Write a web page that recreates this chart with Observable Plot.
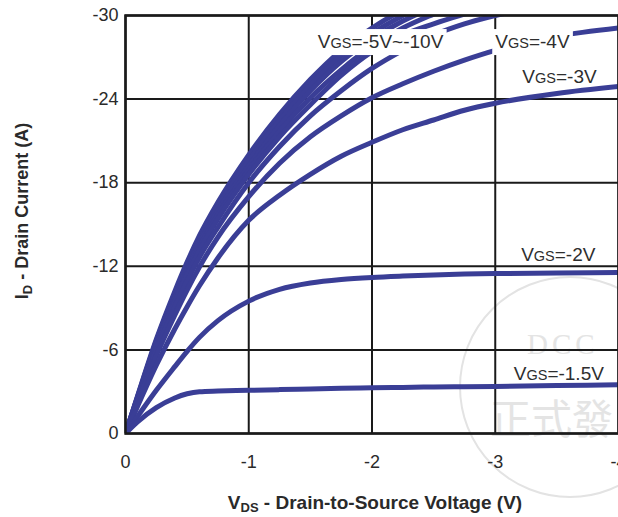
<!DOCTYPE html>
<html><head><meta charset="utf-8">
<script src="https://cdn.jsdelivr.net/npm/d3@7"></script>
<script src="https://cdn.jsdelivr.net/npm/@observablehq/plot@0.6"></script>
<style>
html,body{margin:0;padding:0;background:#fff;}
</style></head><body><div id="chart"></div>
<script>
// VDS sample points (V)
const vdsGrid = [0, -0.1, -0.25, -0.4, -0.5, -0.6, -0.75, -1, -1.25, -1.5, -1.75, -2, -2.25, -2.5, -2.75, -3, -3.5, -4];
// |ID| (A), one array per gate voltage
const id_m10  = [0, 2.75, 6.75, 10.2, 12.3, 14.2, 16.6, 20.0, 22.9, 25.4, 27.5, 29.1, 30.4, 31.4, 32.3, 33.0, 34.0, 34.6];
const id_m9   = [0, 2.7, 6.65, 10.0, 12.05, 13.9, 16.3, 19.6, 22.5, 25.0, 27.1, 28.7, 30.0, 31.1, 32.0, 32.6, 33.5, 34.2];
const id_m8   = [0, 2.65, 6.5, 9.8, 11.8, 13.65, 16.0, 19.2, 22.1, 24.6, 26.7, 28.3, 29.6, 30.6, 31.4, 32.0, 33.0, 33.6];
const id_m7   = [0, 2.6, 6.4, 9.65, 11.6, 13.4, 15.7, 18.9, 21.7, 24.1, 26.1, 27.8, 29.1, 30.1, 31.0, 31.6, 32.4, 33.0];
const id_m6   = [0, 2.55, 6.25, 9.45, 11.4, 13.15, 15.4, 18.6, 21.3, 23.6, 25.7, 27.4, 28.6, 29.4, 30.1, 30.6, 31.3, 31.8];
const id_m5   = [0, 2.45, 6.0, 9.1, 10.95, 12.65, 14.8, 18.0, 20.6, 22.8, 24.6, 26.2, 27.5, 28.6, 29.4, 30.0, 30.8, 31.3];
const id_m4   = [0, 2.3, 5.6, 8.5, 10.3, 11.95, 14.1, 17.0, 19.4, 21.3, 22.8, 24.1, 25.1, 26.0, 26.8, 27.5, 28.5, 29.1];
const id_m3   = [0, 2.0, 4.9, 7.5, 9.1, 10.6, 12.6, 15.3, 17.1, 18.6, 19.9, 20.9, 21.8, 22.5, 23.2, 23.7, 24.4, 24.9];
const id_m2   = [0, 1.25, 3.1, 4.8, 5.9, 6.9, 8.1, 9.5, 10.35, 10.8, 11.05, 11.2, 11.3, 11.38, 11.44, 11.48, 11.52, 11.55];
const id_m1p5 = [0, 0.85, 1.85, 2.55, 2.85, 3.0, 3.05, 3.1, 3.15, 3.2, 3.24, 3.28, 3.31, 3.34, 3.36, 3.38, 3.44, 3.5];

const vgsValues = [-10, -9, -8, -7, -6, -5, -4, -3, -2, -1.5];
const idSeries  = [id_m10, id_m9, id_m8, id_m7, id_m6, id_m5, id_m4, id_m3, id_m2, id_m1p5];

// curve labels (text after the "VGS" prefix)
const labelVgs = ["=-5V~-10V", "=-4V", "=-3V", "=-2V", "=-1.5V"];
const labelVds = [-1.56, -3.0, -3.22, -3.21, -3.15];
const labelId  = [-28.1, -28.1, -25.6, -12.8, -4.3];

const xTicks = [0, -1, -2, -3, -4];
const yTicks = [0, -6, -12, -18, -24, -30];

const rows = [];
vgsValues.forEach((vgs, s) => {
  idSeries[s].forEach((id, k) => rows.push({vgs, vds: vdsGrid[k], id: -id}));
});
const labels = labelVgs.map((t, i) => ({text: t, vds: labelVds[i], id: labelId[i]}));

const blue = "#3a3e96";
const ink = "#1a1a1a";

const svg = Plot.plot({
  width: 618, height: 517,
  marginLeft: 125, marginRight: 0, marginTop: 15, marginBottom: 84,
  x: {domain: [0, -4], label: null},
  y: {domain: [0, -30], label: null},
  style: {fontFamily: "'Liberation Sans', Arial, sans-serif", fontSize: "18px", color: "#2a2a2a", background: "#fff"},
  marks: [
    Plot.gridX(xTicks, {stroke: ink, strokeOpacity: 1, strokeWidth: 2}),
    Plot.gridY(yTicks, {stroke: ink, strokeOpacity: 1, strokeWidth: 2}),
    Plot.line(rows, {x: "vds", y: "id", z: "vgs", stroke: blue, strokeWidth: 5, curve: "monotone-x", clip: true}),
    Plot.frame({stroke: ink, strokeWidth: 2.5}),
    Plot.text(labels, {x: "vds", y: "id", text: "text", textAnchor: "start", fontSize: 19, fill: "#2e2e2e"}),
    Plot.axisX(xTicks, {tickSize: 0, tickPadding: 22, tickFormat: d => String(d), fontSize: 18}),
    Plot.axisY(yTicks, {tickSize: 0, tickPadding: 7, tickFormat: d => String(d), fontSize: 18})
  ]
});
document.getElementById("chart").appendChild(svg);

const S = d3.select(svg);

// "VGS" prefix with smaller GS, and white boxes behind the two top labels
S.selectAll("text").filter(function() { return this.textContent.startsWith("="); }).each(function(d, i) {
  const t = this;
  const rest = t.textContent;
  t.textContent = "";
  const sel = d3.select(t);
  sel.append("tspan").text("V");
  sel.append("tspan").attr("font-size", 14.5).text("GS");
  sel.append("tspan").text(rest);
  if (i < 2) {
    const b = t.getBBox();
    const r = d3.select(t.parentNode).insert("rect", () => t)
      .attr("x", b.x - 3).attr("y", b.y - 2)
      .attr("width", b.width + 6).attr("height", b.height + 5)
      .attr("fill", "#fff");
    if (t.getAttribute("transform")) r.attr("transform", t.getAttribute("transform"));
  }
});

// watermark (faint, behind everything)
const wm = S.insert("g", ":first-child").attr("text-anchor", "start");
wm.append("circle").attr("cx", 570).attr("cy", 387).attr("r", 110)
  .attr("fill", "none").attr("stroke", "#e3e3e3").attr("stroke-width", 2);
wm.append("text").attr("x", 527).attr("y", 354).attr("text-anchor", "start")
  .attr("font-family", "'Liberation Serif', 'DejaVu Serif', serif").attr("font-size", 29)
  .attr("letter-spacing", 4).attr("fill", "#e4e4e4").text("DCC");
wm.append("text").attr("x", 490).attr("y", 434).attr("text-anchor", "start")
  .attr("font-family", "'Noto Sans CJK TC', sans-serif").attr("font-size", 41)
  .attr("fill", "#e4e4e4").text("正式發");

// axis titles with subscripts
const xt = S.append("text").attr("x", 375).attr("y", 509).attr("text-anchor", "middle")
  .attr("font-family", "'Liberation Sans', Arial, sans-serif").attr("font-weight", "bold")
  .attr("font-size", 19).attr("fill", "#2a2a2a");
xt.append("tspan").text("V");
xt.append("tspan").attr("font-size", 13).attr("dy", 3).text("DS");
xt.append("tspan").attr("dy", -3).text(" - Drain-to-Source Voltage (V)");

const yt = S.append("text").attr("transform", "translate(28,211) rotate(-90)").attr("text-anchor", "middle")
  .attr("font-family", "'Liberation Sans', Arial, sans-serif").attr("font-weight", "bold")
  .attr("font-size", 18).attr("fill", "#2a2a2a");
yt.append("tspan").text("I");
yt.append("tspan").attr("font-size", 13).attr("dy", 4).text("D");
yt.append("tspan").attr("dy", -4).text(" - Drain Current (A)");
</script>
</body></html>
